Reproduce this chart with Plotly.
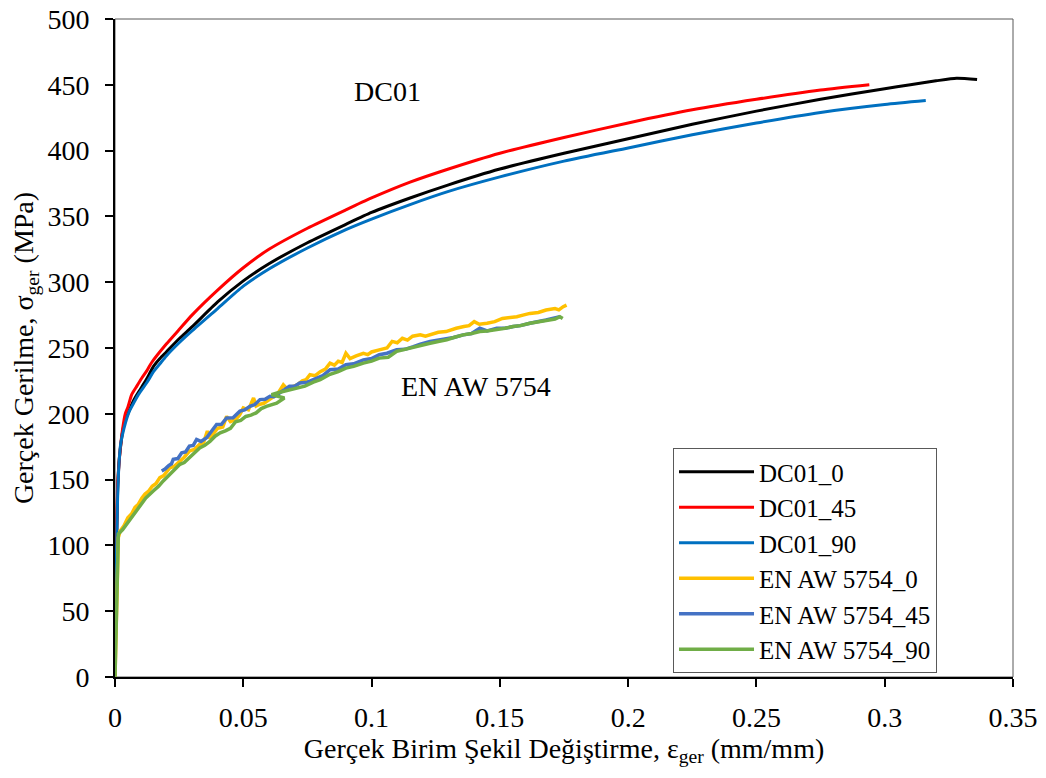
import plotly.graph_objects as go

# ---------------- data ----------------
# DC01 steel, true strain (mm/mm) and true stress (MPa)
dc01_0_x = [0, 0.0005, 0.001, 0.0015, 0.002, 0.003, 0.004, 0.005, 0.0075, 0.01, 0.0125, 0.015, 0.0175,
            0.02, 0.025, 0.03, 0.04, 0.05, 0.06, 0.075, 0.09, 0.1, 0.115, 0.13, 0.15, 0.175, 0.2, 0.225,
            0.25, 0.275, 0.3, 0.31, 0.32, 0.328, 0.336]
dc01_0_y = [0, 90, 140, 162, 172, 187, 195, 200, 211, 219, 227, 236, 242,
            247, 257, 266, 285, 301, 314, 330, 344, 353, 364, 374, 386, 398, 409, 420,
            430, 439, 447, 450, 453, 455, 454]

dc01_45_x = [0, 0.0005, 0.001, 0.0015, 0.002, 0.003, 0.004, 0.005, 0.0065, 0.0085, 0.0104, 0.0125,
             0.0143, 0.02, 0.025, 0.03, 0.04, 0.05, 0.06, 0.075, 0.09, 0.1, 0.115, 0.13, 0.15, 0.175,
             0.2, 0.225, 0.25, 0.275, 0.294]
dc01_45_y = [0, 95, 145, 160, 172, 189, 200, 205, 214.6, 221, 227, 233,
             239, 253, 264, 275, 294, 311, 325, 341, 355, 364, 376, 386, 398, 410,
             421, 431, 439, 446, 450]

dc01_90_x = [0, 0.0005, 0.001, 0.0015, 0.0022, 0.0035, 0.0056, 0.0075, 0.0091, 0.0125, 0.015, 0.0175,
             0.02, 0.025, 0.03, 0.04, 0.05, 0.06, 0.075, 0.09, 0.1, 0.115, 0.13, 0.15, 0.175, 0.2, 0.225,
             0.25, 0.275, 0.3, 0.316]
dc01_90_y = [0, 85, 135, 160, 177, 189, 202, 209, 214.6, 224, 232, 238,
             244, 254, 263, 280, 297, 310, 326, 340, 348, 359, 369, 380, 392, 402, 412,
             421, 429, 435, 438]

# EN AW 5754 aluminium (noisy records), (strain, stress) pairs
al_0 = [(0, 0), (0.0007, 60), (0.0013, 106), (0.002, 111), (0.0035, 115), (0.005, 121), (0.0065, 124),
        (0.0078, 129), (0.009, 131), (0.0105, 136), (0.0117, 139), (0.013, 141), (0.0145, 145),
        (0.016, 147), (0.0175, 151.5), (0.019, 153), (0.0205, 157), (0.0214, 159), (0.023, 160),
        (0.0253, 164), (0.027, 167), (0.029, 171.7), (0.031, 173), (0.033, 176.8), (0.0345, 178),
        (0.036, 186.8), (0.037, 181), (0.038, 184), (0.040, 189), (0.042, 190), (0.0435, 198),
        (0.045, 194), (0.047, 195.7), (0.0485, 199), (0.050, 204.5), (0.052, 203), (0.054, 212),
        (0.055, 206), (0.056, 207), (0.058, 208), (0.060, 211), (0.0617, 213), (0.063, 214),
        (0.0656, 222), (0.067, 219), (0.0695, 221), (0.071, 222), (0.073, 225), (0.0745, 226),
        (0.076, 229.7), (0.078, 229), (0.080, 232), (0.082, 234), (0.0838, 238.5), (0.0855, 237),
        (0.087, 240), (0.0885, 239), (0.090, 246), (0.0916, 242), (0.094, 244), (0.0968, 246),
        (0.0985, 245), (0.100, 247), (0.103, 248.6), (0.1045, 249), (0.106, 250), (0.108, 255),
        (0.110, 254), (0.112, 257.4), (0.114, 256), (0.116, 259), (0.119, 260), (0.121, 259),
        (0.123, 260), (0.126, 262), (0.129, 262.5), (0.131, 264), (0.133, 265), (0.136, 266.3),
        (0.138, 267), (0.140, 270), (0.142, 268), (0.145, 268.8), (0.148, 270), (0.151, 272.5),
        (0.154, 273), (0.1566, 273.8), (0.159, 275), (0.1617, 276.3), (0.165, 277), (0.168, 278.9),
        (0.1715, 280), (0.173, 279), (0.1747, 281.4), (0.176, 282.6)]

al_45 = [(0.0182, 156.6), (0.0195, 158), (0.0208, 160.4), (0.022, 162), (0.0227, 165.4), (0.0245, 166),
         (0.026, 170.4), (0.0275, 171), (0.029, 175.5), (0.0305, 176), (0.0318, 180.5), (0.0335, 179),
         (0.0357, 181.8), (0.0375, 187), (0.0396, 191.9), (0.0415, 192), (0.0435, 196.9), (0.046, 197),
         (0.0487, 202), (0.0505, 203), (0.0526, 205.7), (0.0545, 207), (0.0565, 210.8), (0.0585, 211),
         (0.0604, 213.3), (0.062, 213), (0.0643, 215.8), (0.066, 218), (0.068, 220.9), (0.070, 221),
         (0.072, 223.4), (0.075, 224), (0.0786, 227), (0.081, 229), (0.0838, 233.5), (0.087, 234),
         (0.090, 237.3), (0.093, 238), (0.0968, 241), (0.100, 242), (0.103, 244.9), (0.106, 246),
         (0.1098, 248.6), (0.113, 249), (0.1163, 251), (0.119, 253), (0.1228, 255), (0.126, 256),
         (0.1293, 257.4), (0.132, 258), (0.1357, 260), (0.139, 261), (0.1422, 265), (0.145, 263),
         (0.1488, 265), (0.152, 265), (0.1552, 266.3), (0.158, 267), (0.1617, 268.8), (0.165, 270),
         (0.168, 271.3), (0.1734, 273.8)]

al_90 = [(0, 0), (0.0007, 55), (0.0013, 108.7), (0.003, 112), (0.0045, 116), (0.0058, 118.8), (0.008, 125),
         (0.0097, 130), (0.012, 136), (0.0149, 141.4), (0.017, 145), (0.0188, 149), (0.021, 153),
         (0.0227, 156.6), (0.0253, 161.6), (0.027, 163), (0.029, 166.6), (0.031, 171), (0.033, 174),
         (0.035, 176), (0.037, 179), (0.039, 183), (0.041, 185.5), (0.043, 187), (0.045, 189),
         (0.047, 194), (0.049, 195), (0.051, 198), (0.053, 199), (0.055, 200.7), (0.057, 204),
         (0.059, 205.7), (0.061, 207), (0.063, 208), (0.066, 212), (0.061, 214.6), (0.0635, 216),
         (0.0655, 217), (0.068, 218), (0.0708, 219.6), (0.074, 221), (0.0773, 224), (0.080, 226),
         (0.0838, 230), (0.087, 232), (0.090, 234.7), (0.093, 236), (0.0968, 238.5), (0.100, 240),
         (0.103, 242.3), (0.1065, 243), (0.1098, 247.4), (0.113, 249), (0.1163, 251), (0.119, 252),
         (0.1228, 253.6), (0.126, 255), (0.1293, 256.2), (0.132, 258), (0.1357, 260), (0.139, 261),
         (0.1422, 262.5), (0.145, 263), (0.1488, 263.8), (0.152, 265), (0.1552, 266.3), (0.158, 267),
         (0.1617, 268.8), (0.165, 270), (0.168, 271.3), (0.1715, 272), (0.1734, 273.8), (0.1745, 272.5)]

series_names = ["DC01_0", "DC01_45", "DC01_90", "EN AW 5754_0", "EN AW 5754_45", "EN AW 5754_90"]
series_colors = ["#000000", "#FF0000", "#0070C0", "#FFC000", "#4472C4", "#70AD47"]
series_x = [dc01_0_x, dc01_45_x, dc01_90_x,
            [p[0] for p in al_0], [p[0] for p in al_45], [p[0] for p in al_90]]
series_y = [dc01_0_y, dc01_45_y, dc01_90_y,
            [p[1] for p in al_0], [p[1] for p in al_45], [p[1] for p in al_90]]
series_smooth = [True, True, True, False, False, False]

x_ticks = [0, 0.05, 0.1, 0.15, 0.2, 0.25, 0.3, 0.35]
x_tick_labels = ["0", "0.05", "0.1", "0.15", "0.2", "0.25", "0.3", "0.35"]
y_ticks = [0, 50, 100, 150, 200, 250, 300, 350, 400, 450, 500]

labels = [("DC01", 0.1064, 445), ("EN AW 5754", 0.1407, 221)]

FONT = "Liberation Serif"
FS = 28

fig = go.Figure()
for name, color, xs, ys, smooth in zip(series_names, series_colors, series_x, series_y, series_smooth):
    line = dict(color=color, width=3 if smooth else 3.5)
    if smooth:
        line.update(shape="spline", smoothing=0.6)
    fig.add_trace(go.Scatter(x=xs, y=ys, mode="lines", name=name, line=line))

for text, lx, ly in labels:
    fig.add_annotation(x=lx, y=ly, text=text, showarrow=False,
                       font=dict(family=FONT, size=FS, color="black"))

fig.add_shape(type="rect", xref="paper", yref="paper", x0=0, y0=0, x1=1, y1=1,
              line=dict(color="#595959", width=1), layer="below")

# the page body adds an 8px margin around the figure, so the figure is 16px smaller
fig.update_layout(
    width=1030, height=762,
    margin=dict(l=107, r=25, t=11, b=93, autoexpand=False),
    plot_bgcolor="white", paper_bgcolor="white",
    font=dict(family=FONT, size=FS, color="black"),
    showlegend=True,
    legend=dict(x=0.6214, y=0.177, xanchor="left", yanchor="middle",
                bgcolor="white", bordercolor="#595959", borderwidth=1,
                font=dict(family=FONT, size=25, color="black"),
                tracegroupgap=0, itemwidth=75),
    xaxis=dict(range=[0, 0.35], tickvals=x_ticks, ticktext=x_tick_labels, automargin=False,
               showgrid=False, zeroline=False, showline=True, linecolor="black", linewidth=2,
               ticks="outside", ticklen=8, tickwidth=2, tickcolor="black",
               ticklabelstandoff=6, ticklabeloverflow="allow", tickfont=dict(family=FONT, size=FS),
               title=dict(text="Gerçek Birim Şekil Değiştirme, ε<sub>ger</sub> (mm/mm)",
                          font=dict(family=FONT, size=FS), standoff=6)),
    yaxis=dict(range=[0, 500], tickvals=y_ticks, automargin=False,
               showgrid=False, zeroline=False, showline=True, linecolor="black", linewidth=2,
               ticks="outside", ticklen=8, tickwidth=2, tickcolor="black",
               ticklabelstandoff=10, ticklabeloverflow="allow", tickfont=dict(family=FONT, size=FS),
               title=dict(text="Gerçek Gerilme, σ<sub>ger</sub> (MPa)",
                          font=dict(family=FONT, size=FS), standoff=16)),
)

fig.write_html("out.html")
